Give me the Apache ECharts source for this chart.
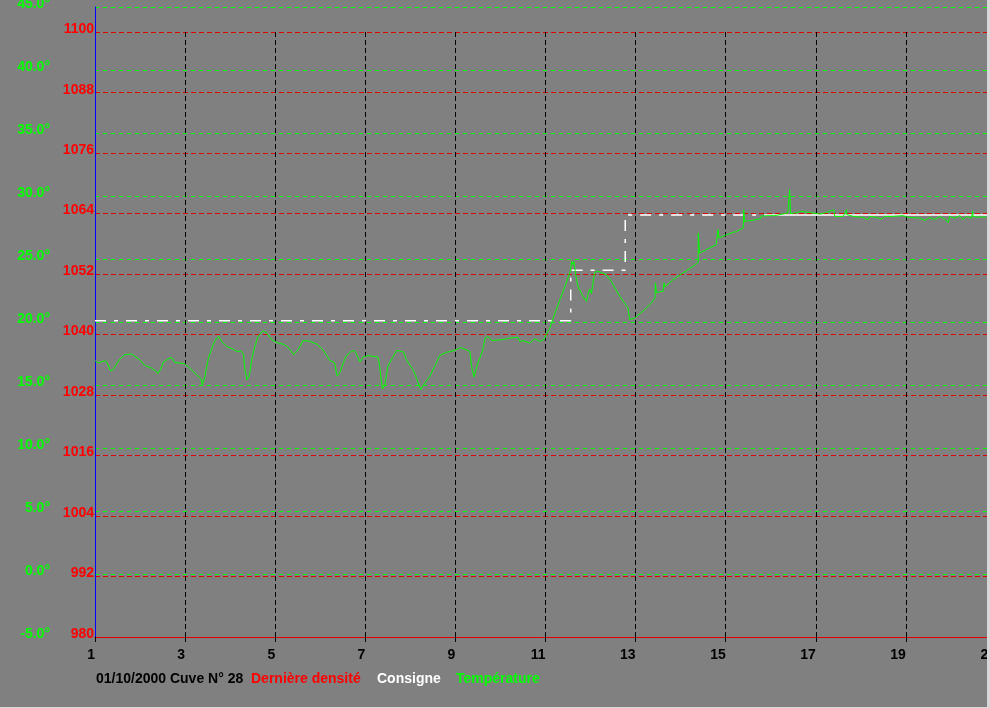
<!DOCTYPE html>
<html>
<head>
<meta charset="utf-8">
<script src="https://cdn.jsdelivr.net/npm/echarts@6/dist/echarts.min.js"></script>
<style>
html,body{margin:0;padding:0;background:#808080;}
#c{width:990px;height:708px;}
</style>
</head>
<body>
<div id="c"></div>
<script>
// ---------- data ----------
const xTicks = [1, 3, 5, 7, 9, 11, 13, 15, 17, 19, 21];
const densityTicks = [980, 992, 1004, 1016, 1028, 1040, 1052, 1064, 1076, 1088, 1100];
const tempTicks = [-5, 0, 5, 10, 15, 20, 25, 30, 35, 40, 45];
const headerText = '01/10/2000 Cuve N\u00b0 28';
const seriesNames = ['Derni\u00e8re densit\u00e9', 'Consigne', 'Temp\u00e9rature'];

const consigneX = [1, 11.56, 11.56, 12.77, 12.77, 16.0];
const consigneY = [20.1, 20.1, 24.1, 24.1, 28.5, 28.5];
const consigneTailX = [16.0, 20.9];
const consigneTailY = [28.5, 28.5];

const tempX = [
1.00,1.07,1.22,1.27,1.34,1.40,1.55,1.66,1.81,1.99,2.10,2.25,2.36,2.40,2.47,2.51,2.62,2.70,2.77,2.99,
3.10,3.25,3.36,3.38,3.44,3.51,3.62,3.70,3.75,3.81,3.92,4.06,4.14,4.25,4.30,4.32,4.37,4.43,4.49,4.55,
4.62,4.73,4.81,4.92,5.03,5.21,5.32,5.41,5.51,5.62,5.77,5.92,6.06,6.21,6.32,6.37,6.43,6.51,6.58,6.69,
6.75,6.80,6.88,6.95,7.06,7.28,7.32,7.38,7.43,7.50,7.62,7.70,7.85,7.91,8.06,8.15,8.23,8.32,8.43,8.54,
8.65,8.80,8.99,9.11,9.24,9.32,9.36,9.41,9.50,9.60,9.66,9.72,9.80,10.06,10.21,10.39,10.43,10.50,10.65,10.76,
10.87,10.98,11.03,11.09,11.13,11.32,11.46,11.55,11.58,11.61,11.63,11.67,11.72,11.83,11.91,11.94,11.98,12.02,12.09,12.17,
12.35,12.46,12.65,12.83,12.87,12.98,13.20,13.35,13.43,13.44,13.46,13.61,13.63,13.65,13.83,14.05,14.27,14.39,14.39,14.42,
14.57,14.79,14.83,14.85,15.02,15.24,15.39,15.40,15.42,15.61,15.77,15.79,15.98,16.09,16.27,16.38,16.42,16.44,16.53,16.68,
16.72,16.94,17.09,17.24,17.40,17.42,17.61,17.68,17.69,17.83,18.05,18.16,18.20,18.35,18.46,18.53,18.72,18.94,19.05,19.31,
19.42,19.53,19.64,19.75,19.86,19.94,19.97,20.08,20.20,20.27,20.34,20.46,20.48,20.49,20.60,20.79
];
const tempY = [
16.93,16.75,16.93,16.79,16.13,16.21,17.06,17.40,17.46,17.01,16.56,16.35,16.08,15.90,16.35,16.79,17.06,17.19,16.79,16.69,
16.35,15.82,15.48,15.02,15.68,17.01,18.20,18.73,18.86,18.46,18.06,17.86,17.67,17.67,17.40,16.48,15.42,15.82,17.27,18.06,
18.86,19.31,19.13,18.60,18.38,18.20,17.86,17.40,17.80,18.54,18.46,18.25,17.80,16.95,16.75,15.74,15.90,16.75,17.33,17.67,
17.75,17.48,16.83,17.22,17.33,17.22,16.48,14.68,14.94,16.48,17.27,17.75,17.62,17.01,16.21,15.42,14.63,15.16,15.68,16.48,
17.33,17.59,17.75,17.98,17.80,17.67,16.48,15.64,16.75,17.67,18.73,18.86,18.54,18.60,18.73,18.78,18.44,18.52,18.33,18.67,
18.46,18.65,19.13,19.44,19.92,21.77,23.10,24.02,24.81,24.55,24.81,23.75,22.83,22.03,21.64,22.17,22.62,22.25,23.94,24.02,
23.75,23.22,22.03,21.11,20.18,20.32,20.98,21.51,21.90,23.10,22.35,22.43,23.10,22.78,23.36,23.89,24.41,24.73,27.06,25.48,
25.74,26.13,27.33,26.67,26.93,27.19,27.46,28.91,27.98,28.08,28.20,28.41,28.44,28.44,28.57,28.65,30.50,28.60,28.65,28.78,
28.70,28.65,28.57,28.70,28.91,28.38,28.38,28.91,28.52,28.38,28.30,28.12,28.38,28.30,28.17,28.38,28.38,28.44,28.30,28.25,
28.06,28.30,28.12,28.38,28.17,27.90,28.38,28.25,28.44,28.12,28.38,28.25,28.83,28.38,28.33,28.33
];

// ---------- chart ----------
const zip = (xs, ys) => xs.map((x, i) => [x, ys[i]]);
const font = "'Liberation Sans', Arial, sans-serif";
const chart = echarts.init(document.getElementById('c'), null, { renderer: 'canvas' });

const option = {
  backgroundColor: '#808080',
  animation: false,
  grid: [
    { left: 95, right: -6, top: 7, bottom: 71, containLabel: false, outerBoundsMode: 'none' },
    { left: 95, right: -6, top: 32, bottom: 71, containLabel: false, outerBoundsMode: 'none' }
  ],
  xAxis: [
    {
      type: 'value', gridIndex: 0, min: 1, max: 21,
      axisLine: { show: true, onZero: false, lineStyle: { color: '#e00000', width: 1 } },
      axisTick: { show: false }, axisLabel: { show: false }, splitLine: { show: false }
    },
    {
      type: 'value', gridIndex: 1, min: 1, max: 21,
      axisLine: { show: false },
      axisTick: { show: true, length: 5, customValues: xTicks, lineStyle: { color: '#000', type: [5, 3] } },
      axisLabel: {
        customValues: xTicks, margin: 11, align: 'right', verticalAlign: 'top', lineHeight: 14,
        color: '#000', fontWeight: 'bold', fontSize: 14, fontFamily: font,
        formatter: v => String(v)
      },
      splitLine: { show: true, showMinLine: false, lineStyle: { color: '#000', width: 1, type: [5, 3] } }
    }
  ],
  yAxis: [
    {
      type: 'value', gridIndex: 0, min: -5, max: 45, interval: 5, position: 'left',
      axisLine: { show: true, onZero: false, lineStyle: { color: '#0000ff', width: 1 } },
      axisTick: { show: false },
      axisLabel: {
        margin: 45, color: '#00ff00', fontWeight: 'bold', fontSize: 14, fontFamily: font,
        verticalAlign: 'bottom', lineHeight: 6, showMinLabel: true, showMaxLabel: true,
        formatter: v => v.toFixed(1) + '\u00b0'
      },
      splitLine: { show: true, lineStyle: { color: '#00ff00', width: 1, type: [4, 4] } }
    },
    {
      type: 'value', gridIndex: 0, min: 980, max: 1105, position: 'left',
      axisLine: { show: false },
      axisTick: { show: false, customValues: densityTicks },
      axisLabel: {
        customValues: densityTicks, margin: 1, color: '#ff0000', fontWeight: 'bold', fontSize: 14,
        fontFamily: font, verticalAlign: 'bottom', lineHeight: 6,
        formatter: v => String(v)
      },
      splitLine: { show: true, lineStyle: { color: '#e00000', width: 1, type: [5, 3] } }
    },
    { type: 'value', gridIndex: 1, min: 0, max: 1, show: false }
  ],
  series: [
    { name: seriesNames[0], type: 'line', xAxisIndex: 0, yAxisIndex: 1, data: [], symbol: 'none' },
    {
      name: seriesNames[1], type: 'line', xAxisIndex: 0, yAxisIndex: 0, symbol: 'none',
      data: zip(consigneX, consigneY),
      lineStyle: { color: '#ffffff', width: 1.5, type: [11, 8, 4, 8] }, z: 3
    },
    {
      name: seriesNames[1], type: 'line', xAxisIndex: 0, yAxisIndex: 0, symbol: 'none',
      data: zip(consigneTailX, consigneTailY),
      lineStyle: { color: '#ffffff', width: 1.5, type: 'solid' }, z: 3
    },
    {
      name: seriesNames[2], type: 'line', xAxisIndex: 0, yAxisIndex: 0, symbol: 'none',
      data: zip(tempX, tempY),
      lineStyle: { color: '#00ff00', width: 1 }, z: 4
    }
  ],
  graphic: [
    { type: 'text', left: 96, top: 672, style: { text: headerText, fill: '#000', font: 'bold 14px ' + font } },
    { type: 'text', left: 251, top: 672, style: { text: seriesNames[0], fill: '#ff0000', font: 'bold 14px ' + font } },
    { type: 'text', left: 377, top: 672, style: { text: seriesNames[1], fill: '#ffffff', font: 'bold 14px ' + font } },
    { type: 'text', left: 456, top: 672, style: { text: seriesNames[2], fill: '#00ff00', font: 'bold 14px ' + font } },
    { type: 'rect', shape: { x: 987, y: 0, width: 3, height: 708 }, style: { fill: '#d8d8d8' }, z: 100 },
    { type: 'rect', shape: { x: 0, y: 707, width: 990, height: 1 }, style: { fill: '#d8d8d8' }, z: 100 }
  ]
};
chart.setOption(option);
</script>
</body>
</html>
